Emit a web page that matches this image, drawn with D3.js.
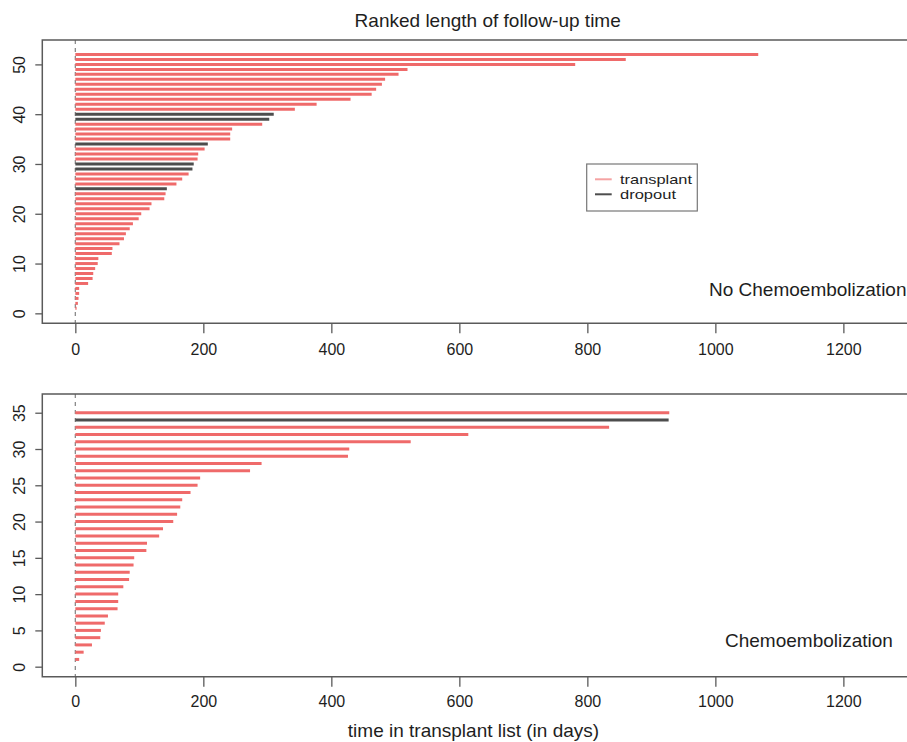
<!DOCTYPE html>
<html>
<head>
<meta charset="utf-8">
<script src="https://cdn.jsdelivr.net/npm/d3@7/dist/d3.min.js"></script>
<style>
  html, body { margin: 0; padding: 0; background: #fff; }
  svg { display: block; font-family: "Liberation Sans", Arial, Helvetica, sans-serif; }
</style>
</head>
<body>
<div id="chart"></div>
<script>
// ---- data ----
const chartTitle = "Ranked length of follow-up time";
const xAxisTitle = "time in transplant list (in days)";
const legendLabels = ["transplant", "dropout"];

// Panel 1: No Chemoembolization (rank 1..52)
const noChemoDays = [2, 4, 5, 6, 6, 20, 27, 28, 31, 35, 36, 57, 58, 69, 76, 79, 85, 90, 99, 103,
  116, 119, 139, 141, 143, 158, 167, 177, 183, 185, 191, 192, 202, 207, 242, 242, 245, 292, 303, 310,
  343, 377, 430, 463, 470, 479, 484, 505, 519, 781, 860, 1067];
const noChemoDropoutRanks = [25, 29, 30, 34, 39, 40];

// Panel 2: Chemoembolization (rank 1..35)
const chemoDays = [6, 13, 26, 39, 40, 46, 51, 66, 67, 67, 75, 84, 85, 91, 92, 111, 112, 131, 137, 153,
  159, 164, 167, 180, 191, 195, 273, 291, 426, 428, 524, 614, 834, 927, 928];
const chemoDropoutRanks = [34];

const xTickValues = [0, 200, 400, 600, 800, 1000, 1200];
const noChemoYTicks = [0, 10, 20, 30, 40, 50];
const chemoYTicks = [0, 5, 10, 15, 20, 25, 30, 35];

// ---- drawing ----
const W = 907, H = 742;
const svg = d3.select("#chart").append("svg").attr("width", W).attr("height", H);

const colTransplant = "#ef6a6a";
const colDropout = "#4d4d4d";
const frameCol = "#5a5a5a";
const textCol = "#1e1e1e";

const x = d3.scaleLinear().domain([-51.6, 1341.6]).range([42.3, 934]);

function panel(cfg) {
  const y = d3.scaleLinear().domain(cfg.yDomain).range([cfg.bottom, cfg.top]);
  const g = svg.append("g");
  const rows = cfg.days.map((d, i) => ({ rank: i + 1, days: d, dropout: cfg.dropouts.includes(i + 1) }));

  // vertical dashed line at x = 0
  g.append("line")
    .attr("x1", x(0)).attr("x2", x(0))
    .attr("y1", cfg.top).attr("y2", cfg.bottom)
    .attr("stroke", "#8a8a8a").attr("stroke-width", 1.3)
    .attr("stroke-dasharray", "4,4");

  // bars
  g.selectAll("line.bar").data(rows).enter().append("line")
    .attr("class", "bar")
    .attr("x1", x(0)).attr("x2", d => x(d.days))
    .attr("y1", d => y(d.rank)).attr("y2", d => y(d.rank))
    .attr("stroke", d => d.dropout ? colDropout : colTransplant)
    .attr("stroke-width", 3);

  // frame (left, top, bottom; right side lies beyond the window)
  g.append("path")
    .attr("d", `M${x.range()[1]},${cfg.top}H${x.range()[0]}V${cfg.bottom}H${x.range()[1]}`)
    .attr("fill", "none").attr("stroke", frameCol).attr("stroke-width", 1.5);

  // x axis
  const xa = g.append("g").attr("transform", `translate(0,${cfg.bottom})`)
    .call(d3.axisBottom(x).tickValues(xTickValues).tickSize(10).tickPadding(10).tickFormat(d3.format("d")));
  xa.select(".domain").remove();
  xa.selectAll(".tick line").attr("stroke", frameCol).attr("stroke-width", 1.3);
  xa.selectAll(".tick text").attr("font-size", 16).attr("fill", textCol)
    .attr("font-family", "'Liberation Sans', Arial, sans-serif")
    .attr("y", cfg.xLabelBaseline - cfg.bottom).attr("dy", 0);

  // y axis
  const ya = g.append("g").attr("transform", `translate(${x.range()[0]},0)`)
    .call(d3.axisLeft(y).tickValues(cfg.yTicks).tickSize(7).tickFormat(d3.format("d")));
  ya.select(".domain").remove();
  ya.selectAll(".tick line").attr("stroke", frameCol).attr("stroke-width", 1.3);
  ya.selectAll(".tick text")
    .attr("font-size", 16).attr("fill", textCol)
    .attr("font-family", "'Liberation Sans', Arial, sans-serif")
    .attr("x", null).attr("dy", null)
    .attr("text-anchor", "middle")
    .attr("transform", `translate(${25 - x.range()[0]},0) rotate(-90)`);

  // panel label
  g.append("text")
    .attr("x", cfg.labelX).attr("y", cfg.labelY)
    .attr("font-size", 19).attr("fill", textCol)
    .text(cfg.label);
  return { g, y };
}

panel({
  days: noChemoDays, dropouts: noChemoDropoutRanks,
  yDomain: [-2.0, 54.9], top: 40, bottom: 323.3, yTicks: noChemoYTicks,
  xLabelBaseline: 355, label: "No Chemoembolization", labelX: 709, labelY: 296
});

panel({
  days: chemoDays, dropouts: chemoDropoutRanks,
  yDomain: [-1.38, 37.58], top: 394, bottom: 676.7, yTicks: chemoYTicks,
  xLabelBaseline: 707.5, label: "Chemoembolization", labelX: 725, labelY: 646.7
});

// title
svg.append("text")
  .attr("x", 487.7).attr("y", 27.3).attr("text-anchor", "middle")
  .attr("font-size", 19).attr("fill", textCol).text(chartTitle);

// x axis title
svg.append("text")
  .attr("x", 473.5).attr("y", 737).attr("text-anchor", "middle")
  .attr("font-size", 19).attr("fill", textCol).text(xAxisTitle);

// legend
const lg = svg.append("g");
lg.append("rect").attr("x", 586.7).attr("y", 164).attr("width", 110.6).attr("height", 47)
  .attr("fill", "#fff").attr("stroke", "#777").attr("stroke-width", 1.2);
const legendColors = ["#f5a3a3", colDropout];
const legendTextWidths = [72, 56];
legendLabels.forEach((lab, i) => {
  const ly = 179.3 + i * 15;
  lg.append("line").attr("x1", 595).attr("x2", 611.7).attr("y1", ly).attr("y2", ly)
    .attr("stroke", legendColors[i]).attr("stroke-width", 2);
  lg.append("text").attr("x", 620).attr("y", ly + 5).attr("font-size", 13)
    .attr("textLength", legendTextWidths[i]).attr("lengthAdjust", "spacingAndGlyphs")
    .attr("fill", textCol).text(lab);
});
</script>
</body>
</html>
